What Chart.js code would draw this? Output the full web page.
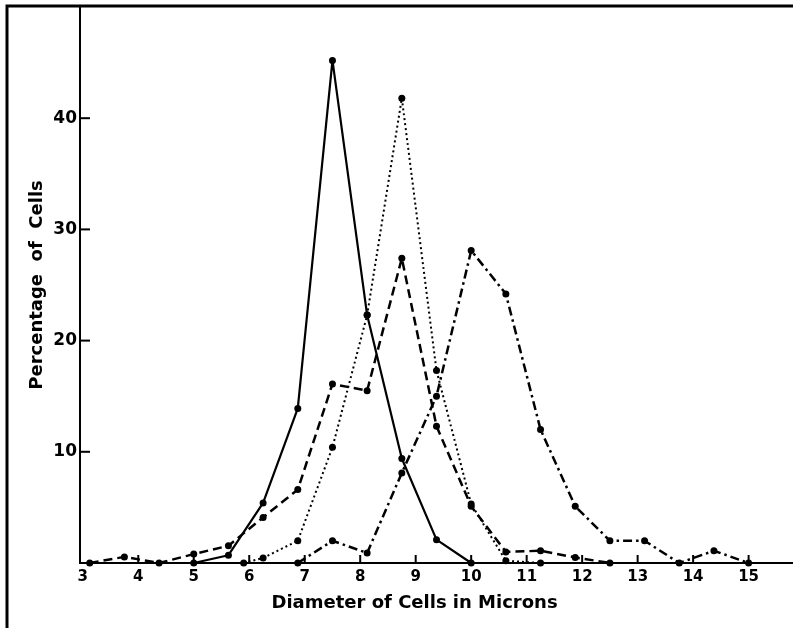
<!DOCTYPE html>
<html>
<head>
<meta charset="utf-8">
<style>
  html, body { margin: 0; padding: 0; background: #fff; }
</style>
</head>
<body>
<canvas id="cellchart" width="793" height="628"></canvas>
<script src="https://cdn.jsdelivr.net/npm/chart.js@4.4.1/dist/chart.umd.min.js"></script>
<script>
const xTicks = [3, 4, 5, 6, 7, 8, 9, 10, 11, 12, 13, 14, 15];
const yTicks = [10, 20, 30, 40];

// diameters (microns) and percentages
const solidX = [5.0, 5.625, 6.25, 6.875, 7.5, 8.125, 8.75, 9.375, 10.0];
const solidY = [0, 0.7, 5.4, 13.9, 45.2, 22.3, 9.4, 2.1, 0];

const dottedX = [5.9, 6.25, 6.875, 7.5, 8.125, 8.75, 9.375, 10.0, 10.625, 11.25];
const dottedY = [0, 0.45, 2.0, 10.4, 22.3, 41.8, 17.3, 5.3, 0.2, 0];

const dashedX = [3.125, 3.75, 4.375, 5.0, 5.625, 6.25, 6.875, 7.5, 8.125, 8.75, 9.375, 10.0, 10.625, 11.25, 11.875, 12.5];
const dashedY = [0, 0.55, 0, 0.8, 1.55, 4.1, 6.6, 16.1, 15.5, 27.4, 12.3, 5.1, 1.0, 1.1, 0.5, 0];

const dashDotX = [6.875, 7.5, 8.125, 8.75, 9.375, 10.0, 10.625, 11.25, 11.875, 12.5, 13.125, 13.75, 14.375, 15.0];
const dashDotY = [0, 2.0, 0.9, 8.1, 15.0, 28.1, 24.2, 12.0, 5.1, 2.0, 2.0, 0, 1.1, 0];

const pts = (xs, ys) => xs.map((x, i) => ({ x: x, y: ys[i] }));

const fontFamily = "'DejaVu Sans', sans-serif";

const series = (data, dash, width) => ({
  data: data,
  borderColor: "#000",
  borderWidth: width,
  borderDash: dash,
  borderJoinStyle: "round",
  pointRadius: 3.5,
  pointBackgroundColor: "#000",
  pointBorderWidth: 0,
  tension: 0,
  clip: false,
});

// plate frame and the short inward tick marks
const framePlugin = {
  id: "frame",
  afterDraw(chart) {
    const ctx = chart.ctx;
    const xs = chart.scales.x;
    const ys = chart.scales.y;
    ctx.save();
    ctx.strokeStyle = "#000";
    ctx.lineWidth = 3;
    ctx.beginPath();
    ctx.moveTo(7, 628);
    ctx.lineTo(7, 6);
    ctx.lineTo(793, 6);
    ctx.stroke();

    ctx.lineWidth = 2;
    yTicks.forEach((v) => {
      const py = ys.getPixelForValue(v);
      ctx.beginPath();
      ctx.moveTo(xs.left, py);
      ctx.lineTo(xs.left + 10, py);
      ctx.stroke();
    });
    xTicks.slice(1).forEach((v) => {
      const px = xs.getPixelForValue(v);
      ctx.beginPath();
      ctx.moveTo(px, ys.bottom);
      ctx.lineTo(px, ys.bottom - 8);
      ctx.stroke();
    });
    ctx.restore();
  },
};

const ctx = document.getElementById("cellchart").getContext("2d");
const cellchart = new Chart(ctx, {
  type: "line",
  data: {
    datasets: [
      series(pts(solidX, solidY), [], 2.2),
      series(pts(dottedX, dottedY), [2, 3], 2),
      series(pts(dashedX, dashedY), [9, 5], 2.5),
      series(pts(dashDotX, dashDotY), [9, 4, 2.5, 4], 2.5),
    ],
  },
  options: {
    responsive: false,
    animation: false,
    layout: { autoPadding: false, padding: { top: 7, left: 0, right: 0, bottom: 0 } },
    plugins: {
      legend: { display: false },
      tooltip: { enabled: false },
    },
    scales: {
      x: {
        type: "linear",
        min: 2.95,
        max: 15.8,
        grid: { display: false, drawTicks: false },
        border: { display: true, color: "#000", width: 2 },
        ticks: {
          color: "#000",
          padding: 5,
          font: { family: fontFamily, size: 15, weight: "bold" },
        },
        afterBuildTicks: (axis) => {
          axis.ticks = xTicks.map((v) => ({ value: v }));
        },
        afterFit: (axis) => {
          axis.height = 65;
          axis.paddingLeft = 0;
          axis.paddingRight = 0;
        },
        title: {
          display: true,
          text: "Diameter of Cells in Microns       ",
          color: "#000",
          font: { family: fontFamily, size: 18, weight: "bold" },
          padding: { top: 0, bottom: 14 },
        },
      },
      y: {
        min: 0,
        max: 50,
        grid: { display: false, drawTicks: false },
        border: { display: true, color: "#000", width: 2 },
        ticks: {
          color: "#000",
          padding: 3,
          font: { family: fontFamily, size: 17, weight: "bold" },
        },
        afterBuildTicks: (axis) => {
          axis.ticks = yTicks.map((v) => ({ value: v }));
        },
        afterFit: (axis) => {
          axis.width = 80;
          axis.paddingTop = 0;
          axis.paddingBottom = 0;
        },
        title: {
          display: true,
          text: "Percentage  of  Cells",
          color: "#000",
          font: { family: fontFamily, size: 18, weight: "bold" },
          padding: { top: 27, bottom: 0 },
        },
      },
    },
  },
  plugins: [framePlugin],
});
</script>
</body>
</html>
